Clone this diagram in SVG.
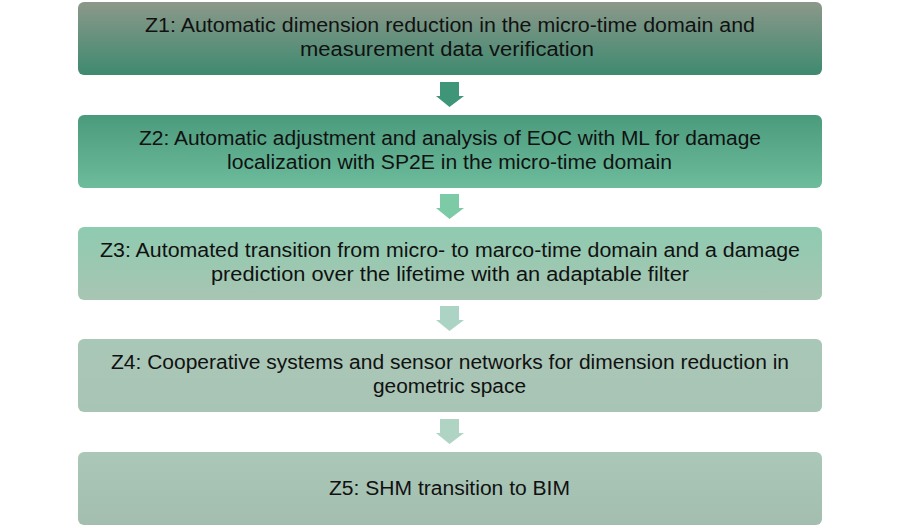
<svg xmlns="http://www.w3.org/2000/svg" width="900" height="527" viewBox="0 0 900 527">
<defs>
<linearGradient id="g1" x1="0" y1="0" x2="0" y2="1"><stop offset="0" stop-color="#8c988a"/><stop offset="1" stop-color="#3e8a70"/></linearGradient>
<linearGradient id="g2" x1="0" y1="0" x2="0" y2="1"><stop offset="0" stop-color="#4a9a7c"/><stop offset="1" stop-color="#6dbc9c"/></linearGradient>
<linearGradient id="g3" x1="0" y1="0" x2="0" y2="1"><stop offset="0" stop-color="#8ecbb0"/><stop offset="1" stop-color="#a8c5b3"/></linearGradient>
<linearGradient id="g4" x1="0" y1="0" x2="0" y2="1"><stop offset="0" stop-color="#a9c7b7"/><stop offset="1" stop-color="#a8c4b4"/></linearGradient>
<linearGradient id="g5" x1="0" y1="0" x2="0" y2="1"><stop offset="0" stop-color="#aac7b7"/><stop offset="1" stop-color="#a3beaf"/></linearGradient>
</defs>
<style>
text{font-family:"Liberation Sans","Noto Sans",sans-serif;font-size:20px;fill:#111;text-anchor:middle}
rect.box{rx:6;ry:6}
</style>
<g id="connectors">
<path d="M440 82H459V96H464L449.5 107L436 96H440Z" fill="#3f9577"/>
<path d="M440 194H459V208H464L449.5 219L436 208H440Z" fill="#7ccaa6"/>
<path d="M440 306H459V320H464L449.5 331L436 320H440Z" fill="#acd4c4"/>
<path d="M440 419H459V433H464L449.5 444L436 433H440Z" fill="#afd4c4"/>
</g>
<g id="z1">
<rect class="box" x="78" y="2" width="744" height="73" fill="url(#g1)"/>
<text x="450" y="32" textLength="610" lengthAdjust="spacingAndGlyphs">Z1: Automatic dimension reduction in the micro-time domain and</text>
<text x="447" y="56" textLength="294" lengthAdjust="spacingAndGlyphs">measurement data verification</text>
</g>
<g id="z2">
<rect class="box" x="78" y="115" width="744" height="73" fill="url(#g2)"/>
<text x="450" y="145" textLength="622" lengthAdjust="spacingAndGlyphs">Z2: Automatic adjustment and analysis of EOC with ML for damage</text>
<text x="449.5" y="169" textLength="445" lengthAdjust="spacingAndGlyphs">localization with SP2E in the micro-time domain</text>
</g>
<g id="z3">
<rect class="box" x="78" y="227" width="744" height="73" fill="url(#g3)"/>
<text x="450" y="257" textLength="700" lengthAdjust="spacingAndGlyphs">Z3: Automated transition from micro- to marco-time domain and a damage</text>
<text x="450" y="281" textLength="478" lengthAdjust="spacingAndGlyphs">prediction over the lifetime with an adaptable filter</text>
</g>
<g id="z4">
<rect class="box" x="78" y="339" width="744" height="73" fill="url(#g4)"/>
<text x="450" y="369" textLength="678" lengthAdjust="spacingAndGlyphs">Z4: Cooperative systems and sensor networks for dimension reduction in</text>
<text x="449.5" y="393" textLength="153" lengthAdjust="spacingAndGlyphs">geometric space</text>
</g>
<g id="z5">
<rect class="box" x="78" y="452" width="744" height="73" fill="url(#g5)"/>
<text x="449.5" y="495" textLength="241" lengthAdjust="spacingAndGlyphs">Z5: SHM transition to BIM</text>
</g>
</svg>
